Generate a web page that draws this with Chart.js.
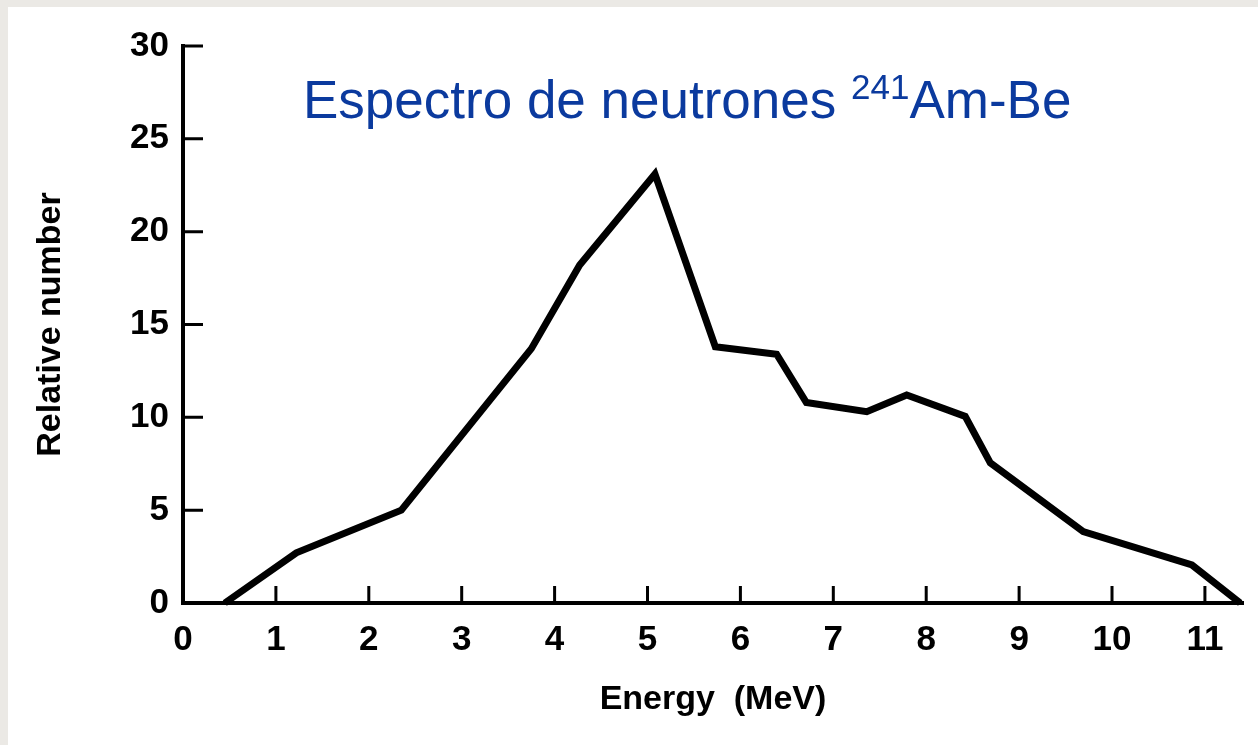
<!DOCTYPE html>
<html>
<head>
<meta charset="utf-8">
<script src="https://cdn.jsdelivr.net/npm/chart.js@4"></script>
<style>
  html, body { margin: 0; padding: 0; }
  body { width: 1258px; height: 745px; background: #ebe9e5; overflow: hidden; }
  #panel { position: absolute; left: 8px; top: 7px; width: 1250px; height: 738px; background: #fff; }
</style>
</head>
<body>
<div id="panel"><canvas id="chart" width="1250" height="738"></canvas></div>
<script>
// =======================
// DATA
// =======================

const energy = [0.45, 1.22, 2.35, 3.75, 4.27, 5.08, 5.73, 6.39, 6.71, 7.36, 7.79, 8.42, 8.69, 9.69, 10.86, 11.38];
const relNumber = [0, 2.7, 5.0, 13.7, 18.2, 23.1, 13.8, 13.4, 10.8, 10.3, 11.2, 10.05, 7.55, 3.85, 2.05, 0];

const xMin = 0, xMax = 11.41, xStep = 1;
const yMin = 0, yMax = 30, yStep = 5;

const titleMain = "Espectro de neutrones ";
const titleSup = "241";
const titleEnd = "Am-Be";
const xTitle = "Energy  (MeV)";
const yTitle = "Relative number";

// =======================
// PLUGINS
// =======================

// inward tick marks, like the hand drawn axes
const innerTicks = {
  id: "innerTicks",
  afterDraw(chart) {
    const ctx = chart.ctx;
    const xs = chart.scales.x, ys = chart.scales.y;
    const area = chart.chartArea;
    ctx.save();
    ctx.strokeStyle = "#000";
    ctx.lineWidth = 3;
    ctx.beginPath();
    ys.ticks.forEach(t => {
      if (t.value === yMin) return;
      let py = ys.getPixelForValue(t.value);
      ctx.moveTo(area.left, py);
      ctx.lineTo(area.left + 20, py);
    });
    xs.ticks.forEach(t => {
      if (t.value === xMin) return;
      let px = xs.getPixelForValue(t.value);
      ctx.moveTo(px, area.bottom);
      ctx.lineTo(px, area.bottom - 17);
    });
    ctx.stroke();
    ctx.restore();
  }
};

// title with superscript mass number
const supTitle = {
  id: "supTitle",
  afterDraw(chart) {
    const ctx = chart.ctx;
    ctx.save();
    ctx.fillStyle = "#0b3a9e";
    ctx.textBaseline = "alphabetic";
    let x = 295, y = 111;
    ctx.font = "53px 'Liberation Sans', Arial, sans-serif";
    ctx.fillText(titleMain, x, y);
    x += ctx.measureText(titleMain).width;
    ctx.font = "35px 'Liberation Sans', Arial, sans-serif";
    ctx.fillText(titleSup, x, y - 19);
    x += ctx.measureText(titleSup).width;
    ctx.font = "53px 'Liberation Sans', Arial, sans-serif";
    ctx.fillText(titleEnd, x, y);
    ctx.restore();
  }
};

// =======================
// CHART
// =======================

const tickFont = { family: "'Liberation Sans', Arial, sans-serif", size: 35, weight: "bold" };
const titleFont = { family: "'Liberation Sans', Arial, sans-serif", size: 34, weight: "bold" };

new Chart(document.getElementById("chart").getContext("2d"), {
  type: "line",
  data: {
    datasets: [{
      data: energy.map((e, i) => ({ x: e, y: relNumber[i] })),
      borderColor: "#000",
      borderWidth: 7,
      borderJoinStyle: "miter",
      pointRadius: 0,
      tension: 0,
      fill: false,
      clip: false
    }]
  },
  options: {
    responsive: false,
    animation: false,
    devicePixelRatio: 1,
    layout: { padding: { top: 39, right: 15, left: 0, bottom: 0 } },
    plugins: {
      legend: { display: false },
      tooltip: { enabled: false }
    },
    scales: {
      x: {
        type: "linear",
        min: xMin,
        max: xMax,
        grid: { display: false, drawTicks: false },
        border: { display: true, color: "#000", width: 4 },
        ticks: {
          stepSize: xStep,
          includeBounds: false,
          color: "#000",
          font: tickFont,
          padding: 16,
          maxRotation: 0
        },
        title: { display: true, text: xTitle, color: "#000", font: titleFont, padding: 25 },
        afterFit(scale) { scale.height = 142; }
      },
      y: {
        type: "linear",
        min: yMin,
        max: yMax,
        grid: { display: false, drawTicks: false },
        border: { display: true, color: "#000", width: 4 },
        ticks: {
          stepSize: yStep,
          color: "#000",
          font: tickFont,
          padding: 14
        },
        title: { display: true, text: yTitle, color: "#000", font: titleFont, padding: 22 },
        afterFit(scale) { scale.width = 175; }
      }
    }
  },
  plugins: [innerTicks, supTitle]
});
</script>
</body>
</html>
